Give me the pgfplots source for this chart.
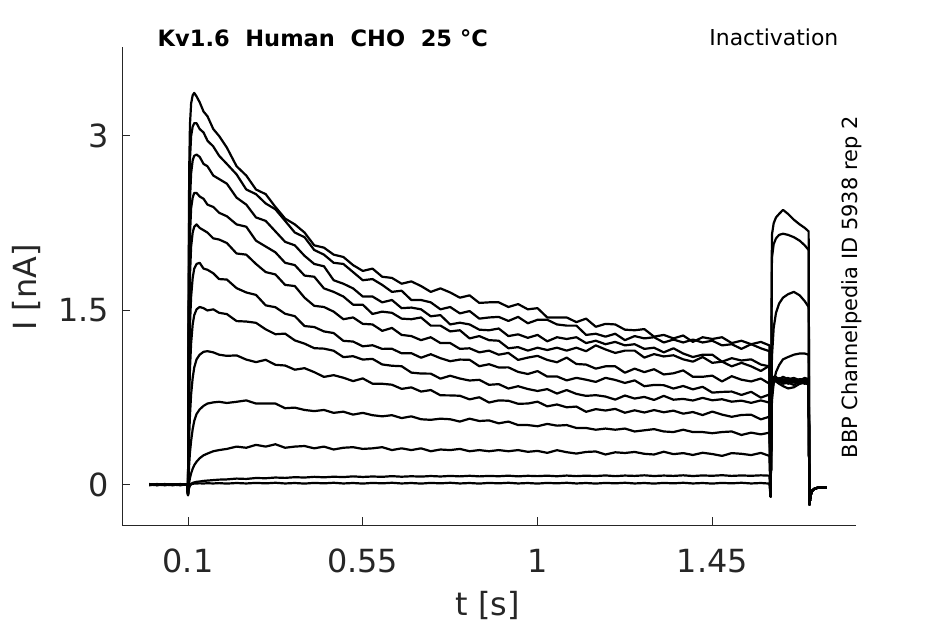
\documentclass[border=0pt]{standalone}
\usepackage{pgfplots}
\pgfplotsset{compat=1.18}
\usepackage{pgfplotstable}
\usepackage{fontspec}
\setmainfont{DejaVu Sans}
\definecolor{axgray}{HTML}{262626}

\pgfplotstableread{
t A B C D E F G H I J K L
0 0.005 0.000 0.008 0.003 -0.002 0.006 0.001 0.004 0.007 0.000 0.003 0.005
0.02 0.000 0.008 0.003 -0.002 0.006 0.001 0.004 0.007 0.000 0.003 0.005 0.002
0.04 0.008 0.003 -0.002 0.006 0.001 0.004 0.007 0.000 0.003 0.005 0.002 0.006
0.06 0.003 -0.002 0.006 0.001 0.004 0.007 0.000 0.003 0.005 0.002 0.006 0.001
0.08 -0.002 0.006 0.001 0.004 0.007 0.000 0.003 0.005 0.002 0.006 0.001 0.008
0.098 0.006 0.001 0.004 0.007 0.000 0.003 0.005 0.002 0.006 0.001 0.008 0.003
0.1 -0.09 -0.085 -0.08 -0.085 -0.08 -0.08 -0.075 -0.08 -0.08 -0.075 -0.07 -0.075
0.1015 1.6 1.4 1.2 1.0 0.8 0.6 0.4 0.2 0.08 -0.02 -0.04 -0.04
0.103 2.7 2.4 2.0 1.75 1.4 1.05 0.75 0.42 0.18 0.02 -0.02 -0.02
0.105 3.1 2.8 2.45 2.15 1.8 1.38 1.0 0.6 0.28 0.06 0.0 -0.005
0.108 3.28 3.0 2.68 2.38 2.05 1.62 1.22 0.78 0.38 0.10 0.01 0.005
0.112 3.35 3.08 2.79 2.47 2.17 1.78 1.38 0.92 0.48 0.14 0.018 0.01
0.116 3.37 3.11 2.83 2.51 2.22 1.86 1.46 1.01 0.55 0.17 0.022 0.012
0.122 3.34 3.11 2.84 2.51 2.24 1.90 1.51 1.08 0.61 0.20 0.027 0.013
0.13 3.29 3.06 2.82 2.48 2.21 1.91 1.53 1.12 0.65 0.23 0.03 0.014
0.14 3.21 3.03 2.76 2.46 2.19 1.86 1.52 1.145 0.68 0.255 0.035 0.013
0.15 3.17 2.96 2.74 2.41 2.17 1.85 1.50 1.15 0.70 0.27 0.038 0.015
0.165 3.06 2.91 2.66 2.39 2.12 1.82 1.51 1.14 0.71 0.29 0.042 0.013
0.18 3.00 2.83 2.63 2.34 2.11 1.77 1.48 1.12 0.715 0.30 0.046 0.016
0.2 2.90 2.76 2.59 2.31 2.08 1.766 1.469 1.11 0.705 0.31 0.048 0.012
0.225 2.74 2.67 2.47 2.24 1.99 1.692 1.409 1.114 0.715 0.33 0.055 0.017
0.25 2.66 2.54 2.41 2.22 1.98 1.655 1.405 1.078 0.727 0.32 0.052 0.013
0.275 2.54 2.50 2.30 2.10 1.90 1.634 1.394 1.056 0.70 0.345 0.06 0.018
0.3 2.50 2.42 2.27 2.05 1.83 1.544 1.338 1.076 0.70 0.33 0.058 0.014
0.325 2.39 2.37 2.18 2.00 1.81 1.528 1.296 1.033 0.70 0.35 0.064 0.019
0.35 2.29 2.27 2.09 1.91 1.72 1.472 1.301 1.027 0.66 0.32 0.061 0.013
0.375 2.24 2.17 2.06 1.89 1.71 1.451 1.243 0.991 0.665 0.33 0.067 0.017
0.4 2.17 2.13 1.97 1.80 1.61 1.366 1.215 1.004 0.645 0.335 0.064 0.012
0.425 2.06 2.02 1.90 1.79 1.54 1.358 1.176 0.97 0.635 0.315 0.07 0.018
0.45 2.04 1.98 1.88 1.69 1.53 1.32 1.172 0.929 0.645 0.33 0.066 0.014
0.475 1.98 1.91 1.76 1.66 1.49 1.306 1.154 0.944 0.62 0.305 0.071 0.019
0.5 1.96 1.90 1.73 1.62 1.425 1.239 1.099 0.922 0.63 0.32 0.068 0.013
0.525 1.89 1.83 1.69 1.55 1.44 1.233 1.107 0.893 0.605 0.325 0.074 0.017
0.55 1.84 1.76 1.62 1.55 1.385 1.192 1.078 0.916 0.62 0.31 0.069 0.012
0.575 1.86 1.77 1.62 1.47 1.38 1.201 1.084 0.871 0.60 0.315 0.073 0.018
0.6 1.79 1.72 1.57 1.49 1.325 1.17 1.036 0.87 0.59 0.325 0.07 0.014
0.625 1.78 1.66 1.59 1.48 1.35 1.171 1.025 0.862 0.60 0.30 0.076 0.019
0.65 1.73 1.67 1.52 1.43 1.29 1.132 1.021 0.826 0.575 0.315 0.071 0.013
0.675 1.75 1.59 1.525 1.425 1.28 1.133 0.966 0.839 0.59 0.30 0.075 0.017
0.7 1.71 1.59 1.51 1.44 1.245 1.094 0.958 0.803 0.565 0.315 0.072 0.012
0.725 1.66 1.57 1.45 1.37 1.27 1.124 0.957 0.816 0.56 0.29 0.077 0.018
0.75 1.69 1.51 1.46 1.37 1.22 1.09 0.914 0.771 0.57 0.305 0.073 0.014
0.775 1.655 1.53 1.38 1.32 1.22 1.064 0.939 0.77 0.565 0.30 0.078 0.019
0.8 1.61 1.475 1.395 1.33 1.17 1.078 0.915 0.767 0.545 0.31 0.074 0.013
0.825 1.63 1.495 1.38 1.26 1.175 1.076 0.898 0.736 0.57 0.29 0.079 0.017
0.85 1.565 1.43 1.335 1.28 1.14 1.021 0.904 0.754 0.55 0.30 0.074 0.012
0.875 1.57 1.44 1.33 1.245 1.155 1.038 0.861 0.709 0.555 0.29 0.078 0.018
0.9 1.57 1.445 1.345 1.24 1.12 1.01 0.867 0.727 0.53 0.30 0.075 0.014
0.925 1.53 1.41 1.28 1.175 1.135 1.011 0.829 0.724 0.545 0.29 0.08 0.019
0.95 1.555 1.445 1.295 1.185 1.075 0.972 0.849 0.698 0.515 0.30 0.074 0.013
0.975 1.51 1.39 1.265 1.155 1.095 0.954 0.825 0.70 0.515 0.285 0.079 0.017
1.0 1.52 1.42 1.29 1.18 1.11 0.979 0.808 0.716 0.505 0.293 0.076 0.012
1.025 1.44 1.42 1.235 1.16 1.075 0.932 0.824 0.676 0.525 0.276 0.08 0.018
1.05 1.44 1.38 1.27 1.18 1.055 0.933 0.786 0.692 0.51 0.299 0.075 0.014
1.075 1.44 1.37 1.255 1.155 1.095 0.899 0.816 0.668 0.515 0.282 0.081 0.019
1.1 1.40 1.37 1.27 1.18 1.04 0.921 0.783 0.674 0.49 0.27 0.076 0.013
1.125 1.43 1.29 1.22 1.15 1.035 0.905 0.766 0.629 0.49 0.284 0.08 0.017
1.15 1.36 1.30 1.24 1.20 1.00 0.886 0.772 0.652 0.475 0.288 0.077 0.012
1.175 1.385 1.275 1.21 1.165 1.02 0.921 0.76 0.64 0.485 0.262 0.082 0.018
1.2 1.38 1.30 1.23 1.135 1.02 0.903 0.734 0.654 0.475 0.281 0.076 0.014
1.225 1.335 1.245 1.20 1.155 0.965 0.877 0.769 0.621 0.485 0.275 0.081 0.019
1.25 1.33 1.28 1.21 1.155 1.00 0.899 0.743 0.642 0.46 0.284 0.078 0.013
1.275 1.34 1.26 1.17 1.095 0.97 0.849 0.757 0.623 0.47 0.268 0.083 0.017
1.3 1.275 1.27 1.18 1.125 0.995 0.86 0.731 0.644 0.48 0.262 0.077 0.012
1.325 1.29 1.225 1.14 1.105 0.95 0.858 0.766 0.625 0.46 0.286 0.081 0.018
1.35 1.26 1.25 1.175 1.115 0.96 0.829 0.733 0.639 0.455 0.265 0.078 0.014
1.375 1.285 1.225 1.13 1.08 0.985 0.851 0.74 0.613 0.475 0.274 0.083 0.019
1.4 1.23 1.25 1.10 1.06 0.93 0.822 0.726 0.627 0.455 0.258 0.077 0.013
1.425 1.27 1.225 1.12 1.10 0.93 0.844 0.749 0.601 0.455 0.277 0.082 0.017
1.45 1.255 1.24 1.12 1.05 0.94 0.794 0.728 0.631 0.445 0.266 0.079 0.012
1.475 1.27 1.20 1.06 1.06 0.89 0.80 0.737 0.605 0.455 0.25 0.084 0.018
1.5 1.22 1.21 1.09 1.02 0.935 0.803 0.716 0.586 0.46 0.274 0.078 0.014
1.525 1.24 1.17 1.07 1.05 0.905 0.774 0.725 0.602 0.43 0.268 0.082 0.019
1.55 1.21 1.21 1.08 1.02 0.89 0.801 0.706 0.604 0.45 0.257 0.079 0.013
1.575 1.23 1.175 1.035 0.98 0.915 0.751 0.727 0.564 0.435 0.276 0.083 0.017
1.597 1.20 1.15 1.02 1.025 0.87 0.778 0.708 0.587 0.45 0.25 0.08 0.012
1.6 -0.10 -0.10 -0.10 -0.10 -0.10 -0.10 -0.10 -0.10 -0.10 -0.10 -0.10 -0.10
1.6035 0.84 0.85 0.84 0.82 0.83 0.82 0.80 0.80 0.72 1.10 1.95 2.15
1.608 0.90 0.93 0.90 0.92 0.91 0.90 0.88 0.90 0.88 1.35 2.07 2.25
1.614 0.89 0.90 0.92 0.90 0.93 0.89 0.91 0.92 0.97 1.48 2.12 2.30
1.622 0.87 0.89 0.88 0.91 0.90 0.92 0.89 0.91 1.03 1.56 2.15 2.33
1.632 0.85 0.87 0.90 0.89 0.91 0.88 0.90 0.93 1.08 1.61 2.16 2.365
1.645 0.83 0.88 0.87 0.90 0.88 0.90 0.92 0.91 1.10 1.64 2.15 2.33
1.66 0.84 0.86 0.89 0.88 0.90 0.91 0.89 0.92 1.12 1.66 2.13 2.28
1.675 0.87 0.89 0.88 0.90 0.87 0.89 0.91 0.90 1.13 1.63 2.10 2.24
1.688 0.88 0.87 0.90 0.88 0.89 0.91 0.90 0.92 1.13 1.58 2.06 2.21
1.698 0.86 0.88 0.87 0.89 0.88 0.90 0.89 0.91 1.12 1.53 2.02 2.18
1.7 -0.17 -0.17 -0.17 -0.17 -0.17 -0.17 -0.17 -0.17 -0.17 -0.17 -0.17 -0.17
1.703 -0.09 -0.09 -0.09 -0.09 -0.09 -0.09 -0.09 -0.09 -0.09 -0.09 -0.09 -0.09
1.707 -0.05 -0.05 -0.05 -0.05 -0.05 -0.05 -0.05 -0.05 -0.05 -0.05 -0.05 -0.05
1.712 -0.035 -0.035 -0.035 -0.035 -0.035 -0.035 -0.035 -0.035 -0.035 -0.035 -0.035 -0.035
1.72 -0.025 -0.025 -0.025 -0.025 -0.025 -0.025 -0.025 -0.025 -0.025 -0.025 -0.025 -0.025
1.73 -0.02 -0.02 -0.02 -0.02 -0.02 -0.02 -0.02 -0.02 -0.02 -0.02 -0.02 -0.02
1.745 -0.025 -0.025 -0.025 -0.025 -0.025 -0.025 -0.025 -0.025 -0.025 -0.025 -0.025 -0.025
}\data

\begin{document}
\begin{tikzpicture}
\useasboundingbox (0,0) rectangle (945bp,624bp);
\begin{axis}[
  at={(122bp,99bp)}, anchor=south west,
  scale only axis, width=734bp, height=478bp,
  xmin=-0.07, xmax=1.82, ymin=-0.344, ymax=3.765,
  axis x line*=bottom, axis y line*=left,
  axis line style={-, draw=axgray, line width=1bp},
  xtick={0.1,0.55,1,1.45}, xticklabels={0.1,0.55,1,1.45},
  ytick={0,1.5,3}, yticklabels={0,1.5,3},
  tick align=inside, major tick length=8bp, tick pos=left,
  tick style={draw=axgray, line width=1bp},
  /pgf/number format/assume math mode=true,
  ticklabel style={font=\fontsize{32}{38}\selectfont, text=axgray},
  xticklabel style={anchor=base, inner sep=0pt, yshift=-47.7bp},
  yticklabel style={anchor=east, inner sep=0pt, xshift=-13bp},
  xlabel={t [s]}, ylabel={I [nA]},
  label style={font=\fontsize{32}{38}\selectfont, text=axgray},
  xlabel style={at={(axis description cs:0.498,-0.1883)}, anchor=base, inner sep=0pt},
  ylabel style={at={(axis description cs:-0.1162,0.497)}, anchor=base, inner sep=0pt},
  clip=false,
]
\pgfplotsinvokeforeach{A,B,C,D,E,F,G,H,I,J,K,L}{
  \addplot[black, line width=2.2bp, line join=round, no markers] table[x=t, y=#1] {\data};
}
\end{axis}
\node[anchor=base west, inner sep=0pt, font=\fontsize{22.6}{27}\selectfont\bfseries] at (157.5bp,577.3bp) {Kv1.6~~Human~~CHO~~25~°C};
\node[anchor=base east, inner sep=0pt, font=\fontsize{22}{26}\selectfont] at (838.5bp,578bp) {Inactivation};
\node[anchor=base, inner sep=0pt, rotate=90, font=\fontsize{21}{25}\selectfont] at (857bp,336.5bp) {BBP Channelpedia ID 5938 rep 2};
\end{tikzpicture}
\end{document}
